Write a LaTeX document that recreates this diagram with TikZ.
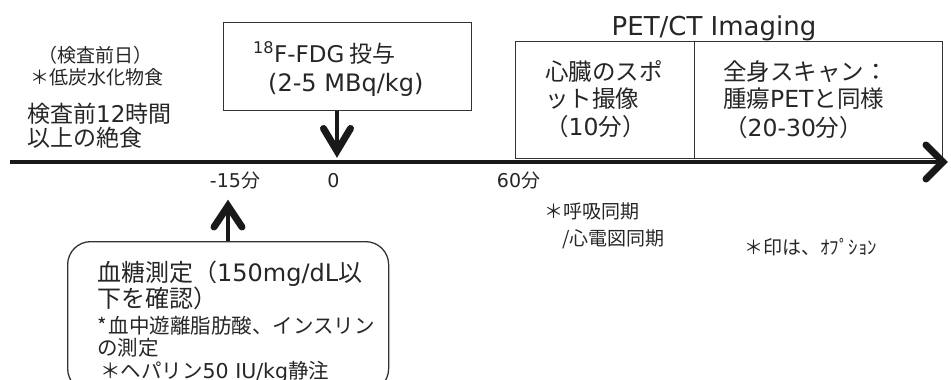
\documentclass[tikz,border=0pt]{standalone}
\usepackage{fontspec}
\setmainfont{Noto Sans CJK JP}
\newfontfamily\lat{DejaVu Sans}
\usetikzlibrary{calc}
\newcommand{\fsz}[1]{\fontsize{#1}{#1}\selectfont}
\begin{document}
\begin{tikzpicture}[x=1pt,y=-1pt,
  box/.style={draw=black!80, line width=1.3pt, inner sep=0pt},
  txt/.style={anchor=base west, inner sep=0pt, text=black!85},
  ctxt/.style={anchor=base, inner sep=0pt, text=black!85},
  big/.style={font=\fsz{23.5}},
  bigger/.style={font=\fsz{24}},
  small/.style={font=\fsz{19}},
  mid/.style={font=\fsz{20.5}},
  timeline/.style={line width=4.5pt, black!90},
  chevron/.style={line width=7pt, line cap=round, line join=miter, black!90},
  stem/.style={line width=3.5pt, black!90}]
\useasboundingbox (0,0) rectangle (951,380);
\clip (0,0) rectangle (951,380);
% boxes
\node[box, minimum width=248pt, minimum height=88pt, anchor=north west] (fdg) at (223,22) {};
\node[box, minimum width=179pt, minimum height=117pt, anchor=north west] (spot) at (515,41) {};
\node[box, minimum width=248pt, minimum height=117pt, anchor=north west] (whole) at (694,41) {};
\node[box, rounded corners=23pt, minimum width=321pt, minimum height=150pt, anchor=north west] (glu) at (67,241) {};
% timeline
\coordinate (t0) at (10,162);
\coordinate (tend) at (943,162);
\draw[timeline] (t0) -- (tend);
\draw[chevron] ($(tend)+(-17,-17)$) -- (tend) -- ($(tend)+(-17,17)$);
% down arrow
\coordinate (zero) at (337,151);
\draw[stem] (fdg.south -| zero) -- (zero);
\draw[chevron] ($(zero)+(-13.5,-22.5)$) -- (zero) -- ($(zero)+(13.5,-22.5)$);
% up arrow
\coordinate (m15) at (228,206);
\draw[stem] (glu.north -| m15) -- (m15);
\draw[chevron] ($(m15)+(-14,21)$) -- (m15) -- ($(m15)+(14,21)$);
% left texts
\node[txt, small] (pre) at (38,62) {（検査前日）};
\node[txt, small] (lowcarb) at (30,84) {＊低炭水化物食};
\node[txt, align=left, font=\fontsize{23}{24}\selectfont] (fast) at (27,146.7) {検査前{\lat 12}時間\\以上の絶食};
% FDG
\node[txt, font=\fsz{23}] (fdg1) at (253,62.5) {{\lat\textsuperscript{18}F-FDG} 投与};
\node[txt, bigger] (fdg2) at (268,91.5) {{\lat (2-5 MBq/kg)}};
% PET/CT
\node[ctxt, font=\lat\fsz{26}] (petct) at (714,35) {PET/CT Imaging};
\node[txt, big] (sp1) at (545,80.4) {心臓のスポ};
\node[txt, big] (sp2) at (545,107.7) {ット撮像};
\node[txt, big] (sp3) at (545,135.7) {（{\lat 10}分）};
\node[txt, big] (wb1) at (723,80.7) {全身スキャン：};
\node[txt, big] (wb2) at (723,107.7) {腫瘍{\lat PET}と同様};
\node[txt, big] (wb3) at (724,136.7) {（{\lat 20-30}分）};
% timeline labels
\node[ctxt, small] (lm15) at (235,187) {{\lat -15}分};
\node[ctxt, small] (l0) at (333.5,187) {{\lat 0}};
\node[ctxt, small] (l60) at (518.5,187) {{\lat 60}分};
% notes
\node[txt, small] (sync1) at (544,218) {＊呼吸同期};
\node[txt, small] (sync2) at (562,245) {/心電図同期};
\node[txt, small] (opt) at (744,254) {＊印は、ｵﾌﾟｼｮﾝ};
% glucose box text
\node[txt, bigger] (g1) at (97,281.9) {血糖測定（{\lat 150mg/dL}以};
\node[txt, bigger] (g2) at (97,307.9) {下を確認）};
\node[txt, mid] (g3) at (97,333.6) {*\hspace{2pt}血中遊離脂肪酸、インスリン};
\node[txt, mid] (g4) at (97,355.6) {の測定};
\node[txt, mid] (g5) at (100,378.6) {＊ヘパリン{\lat 50 IU/kg}静注};
\end{tikzpicture}
\end{document}
